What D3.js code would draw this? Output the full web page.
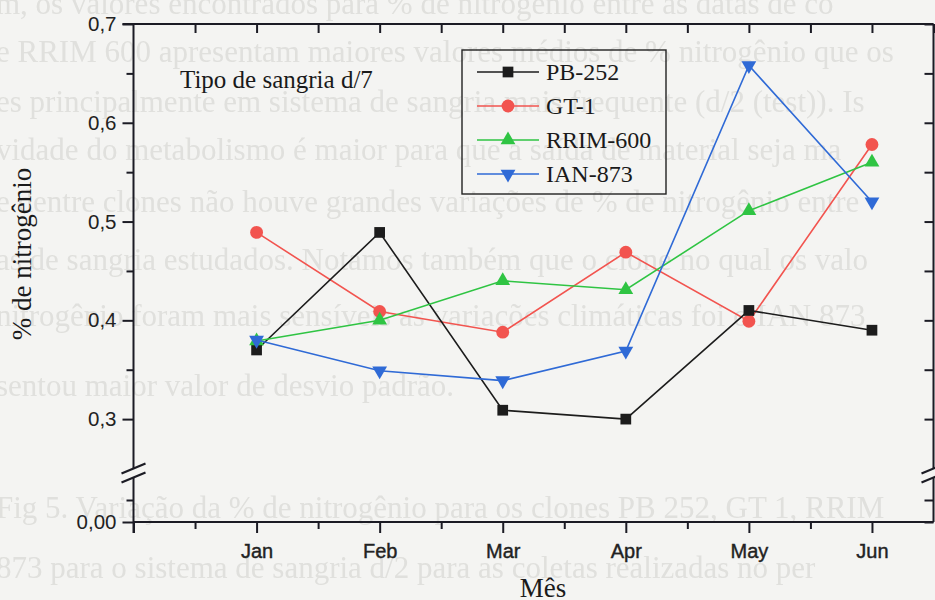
<!DOCTYPE html>
<html>
<head>
<meta charset="utf-8">
<script src="https://cdn.jsdelivr.net/npm/d3@7"></script>
<style>
  body { margin: 0; background: #f4f4f2; }
  svg { display: block; }
  .tick text { font-family: "Liberation Sans", Arial, sans-serif; }
</style>
</head>
<body>
<svg id="chart"></svg>
<script>
var W = 935, H = 600

// chart data
var months = ["Jan", "Feb", "Mar", "Apr", "May", "Jun"]
var seriesNames = ["PB-252", "GT-1", "RRIM-600", "IAN-873"]
var pb252 = [0.370, 0.489, 0.309, 0.300, 0.410, 0.390]
var gt1 = [0.489, 0.409, 0.388, 0.469, 0.399, 0.578]
var rrim600 = [0.379, 0.400, 0.440, 0.431, 0.511, 0.560]
var ian873 = [0.380, 0.349, 0.339, 0.369, 0.658, 0.520]
var yTickVals = [0, 0.3, 0.4, 0.5, 0.6, 0.7]
var yTickLabels = ["0,00", "0,3", "0,4", "0,5", "0,6", "0,7"]
var yMinorVals = [0.025, 0.35, 0.45, 0.55, 0.65]

// faint text of the scanned page behind the figure
var pageLines = [
  "m, os valores encontrados para % de nitrogênio entre as datas de co",
  "e RRIM 600 apresentam maiores valores médios de % nitrogênio que os",
  "es principalmente em sistema de sangria mais frequente (d/2 (test)). Is",
  "vidade do metabolismo é maior para que a saída de material seja ma",
  "e dentre clones não houve grandes variações de % de nitrogênio entre",
  "as de sangria estudados. Notamos também que o clone no qual os valo",
  "nitrogênio foram mais sensíveis as variações climáticas foi o IAN 873",
  "sentou maior valor de desvio padrão.",
  "Fig 5. Variação da % de nitrogênio para os clones PB 252, GT 1, RRIM",
  "873 para o sistema de sangria d/2 para as coletas realizadas no per"
]
var pageBaselines = [14, 62, 112, 160, 212, 270, 326, 396, 518, 578]

var styles = {
  "PB-252":   {color: "#1c1c1c", shape: d3.symbolSquare, size: 115, rot: 0},
  "GT-1":     {color: "#f2544f", shape: d3.symbolCircle, size: 130, rot: 0},
  "RRIM-600": {color: "#2fc443", shape: d3.symbolTriangle, size: 95, rot: 0},
  "IAN-873":  {color: "#2f6ad6", shape: d3.symbolTriangle, size: 95, rot: 180}
}

var svg = d3.select("#chart").attr("width", W).attr("height", H)

svg.append("defs").append("filter").attr("id", "soft")
  .append("feGaussianBlur").attr("stdDeviation", 0.7)

svg.append("rect").attr("width", W).attr("height", H).attr("fill", "#f4f4f2")

svg.append("g").attr("filter", "url(#soft)").selectAll("text")
  .data(pageLines)
  .enter()
  .append("text")
  .attr("x", -4)
  .attr("y", function(d, i) { return pageBaselines[i] })
  .text(function(d) { return d })
  .attr("fill", "#e0e0dd")
  .style("font-family", "'Liberation Serif', 'Times New Roman', serif")
  .style("font-size", "31px")

var plotL = 133.5, plotR = 933.5, plotT = 24, plotB = 522
var breakY = 473

var x = d3.scaleLinear().domain([-1, 5.5]).range([plotL, plotR])
var y = d3.scaleLinear().domain([0, 0.025, 0.25, 0.7]).range([plotB, 500, 468.5, plotT])

var axisColor = "#1b1b24"

// ticks
var styleAxis = function(g) {
  g.select(".domain").remove()
  g.selectAll(".tick line").attr("stroke", axisColor).attr("stroke-width", 2)
  g.selectAll(".tick text").attr("fill", "#222").style("font-size", "20.5px")
}

svg.append("g")
  .attr("transform", "translate(" + plotL + ",0)")
  .call(d3.axisLeft(y).tickValues(yTickVals).tickSize(11).tickPadding(6)
    .tickFormat(function(d, i) { return yTickLabels[i] }))
  .call(styleAxis)

svg.append("g")
  .attr("transform", "translate(" + plotL + ",0)")
  .call(d3.axisLeft(y).tickValues(yMinorVals).tickSize(7).tickFormat(""))
  .call(styleAxis)

svg.append("g")
  .attr("transform", "translate(" + plotR + ",0)")
  .call(d3.axisLeft(y).tickValues(yTickVals.concat(yMinorVals)).tickSize(9).tickFormat(""))
  .call(styleAxis)

svg.append("g")
  .attr("transform", "translate(0," + plotB + ")")
  .call(d3.axisBottom(x).tickValues(d3.range(-1, 6)).tickSize(11).tickPadding(11)
    .tickFormat(function(d) { return d >= 0 ? months[d] : "" }))
  .call(styleAxis)
  .selectAll(".tick text").style("font-size", "20px").attr("stroke", "#222").attr("stroke-width", 0.4)

svg.append("g")
  .attr("transform", "translate(0," + plotB + ")")
  .call(d3.axisBottom(x).tickValues(d3.range(-0.5, 5.5, 1)).tickSize(7).tickFormat(""))
  .call(styleAxis)

svg.append("g")
  .attr("transform", "translate(0," + plotT + ")")
  .call(d3.axisBottom(x).tickValues(d3.range(-0.5, 5.6, 0.5)).tickSize(9).tickFormat(""))
  .call(styleAxis)

// frame with breaks on the vertical axes
var frame = svg.append("g").attr("stroke", axisColor).attr("stroke-width", 2).attr("fill", "none")
frame.append("path").attr("d", "M" + (plotL - 11) + "," + plotT + "H" + plotR)
frame.append("path").attr("d", "M" + plotL + "," + plotB + "H" + plotR)
frame.append("path").attr("d", "M" + plotL + "," + plotT + "V" + (breakY - 4) + "M" + plotL + "," + (breakY + 5) + "V" + (plotB + 11))
frame.append("path").attr("d", "M" + plotR + "," + plotT + "V" + (breakY - 4) + "M" + plotR + "," + (breakY + 5) + "V" + plotB)
;[plotL, plotR].forEach(function(ax) {
  ;[-4.5, 4.5].forEach(function(off) {
    frame.append("line")
      .attr("x1", ax - 12).attr("y1", breakY + off + 5)
      .attr("x2", ax + 12).attr("y2", breakY + off - 5)
      .attr("stroke-width", 2.2)
  })
})

// series
var seriesData = {"PB-252": pb252, "GT-1": gt1, "RRIM-600": rrim600, "IAN-873": ian873}
var drawOrder = ["GT-1", "PB-252", "RRIM-600", "IAN-873"]
var line = d3.line().x(function(d, i) { return x(i) }).y(function(d) { return y(d) })

drawOrder.forEach(function(name) {
  var st = styles[name]
  var g = svg.append("g")
  g.append("path")
    .attr("d", line(seriesData[name]))
    .attr("fill", "none")
    .attr("stroke", st.color)
    .attr("stroke-width", 1.6)
  g.selectAll("path.mark")
    .data(seriesData[name])
    .enter()
    .append("path")
    .attr("class", "mark")
    .attr("d", d3.symbol().type(st.shape).size(st.size))
    .attr("transform", function(d, i) { return "translate(" + x(i) + "," + y(d) + ") rotate(" + st.rot + ")" })
    .attr("fill", st.color)
})

// legend
var legend = svg.append("g")
legend.append("rect")
  .attr("x", 462).attr("y", 50).attr("width", 204).attr("height", 144)
  .attr("fill", "none").attr("stroke", "#222").attr("stroke-width", 1.4)
var leg = legend.selectAll("g.item")
  .data(seriesNames)
  .enter()
  .append("g")
  .attr("class", "item")
  .attr("transform", function(d, i) { return "translate(0," + (72 + i * 34) + ")" })
leg.append("line")
  .attr("x1", 477).attr("x2", 539)
  .attr("stroke", function(d) { return styles[d].color })
  .attr("stroke-width", 1.6)
leg.append("path")
  .attr("d", function(d) { return d3.symbol().type(styles[d].shape).size(styles[d].size)() })
  .attr("transform", function(d) { return "translate(508,0) rotate(" + styles[d].rot + ")" })
  .attr("fill", function(d) { return styles[d].color })
leg.append("text")
  .attr("x", 546).attr("y", 8)
  .text(function(d) { return d })
  .attr("fill", "#1a1a1a")
  .style("font-family", "'Liberation Serif', 'Times New Roman', serif")
  .style("font-size", "24px")

// labels
svg.append("text")
  .text("Tipo de sangria d/7")
  .attr("x", 180).attr("y", 88)
  .attr("fill", "#1a1a1a")
  .style("font-family", "'Liberation Serif', 'Times New Roman', serif")
  .style("font-size", "25px")

svg.append("text")
  .text("Mês")
  .attr("text-anchor", "middle")
  .attr("x", 543).attr("y", 597)
  .attr("fill", "#1a1a1a")
  .style("font-family", "'Liberation Serif', 'Times New Roman', serif")
  .style("font-size", "27px")

svg.append("text")
  .text("% de nitrogênio")
  .attr("text-anchor", "middle")
  .attr("transform", "translate(31,254) rotate(-90)")
  .attr("fill", "#1a1a1a")
  .style("font-family", "'Liberation Serif', 'Times New Roman', serif")
  .style("font-size", "27px")
</script>
</body>
</html>
